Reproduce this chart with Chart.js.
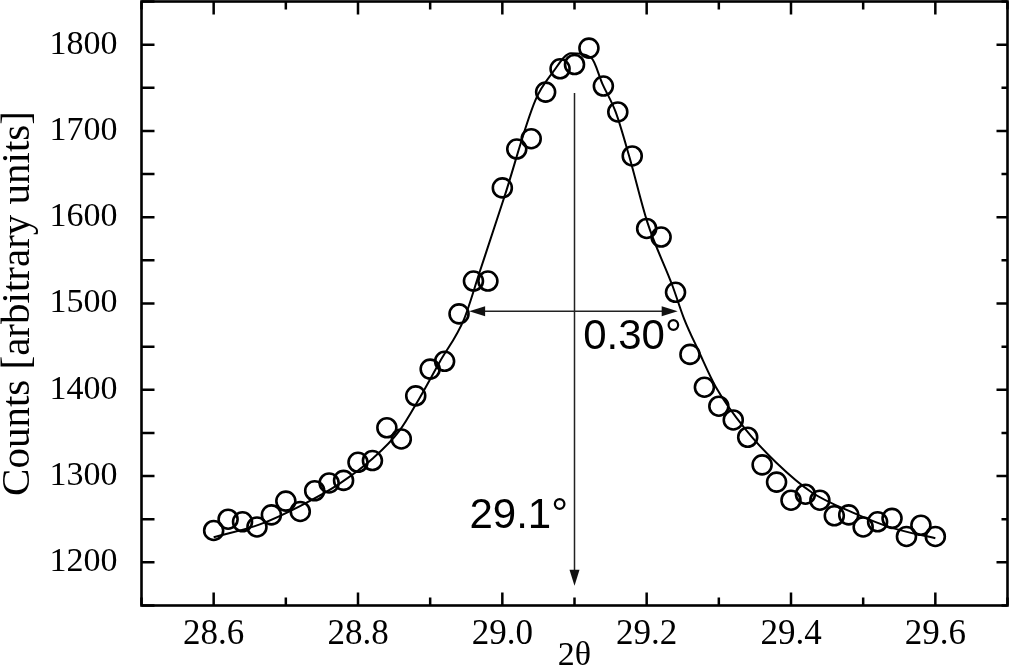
<!DOCTYPE html>
<html>
<head>
<meta charset="utf-8">
<title>XRD peak</title>
<script src="https://cdn.jsdelivr.net/npm/chart.js@4.4.1/dist/chart.umd.min.js"></script>
<style>
  html, body { margin: 0; padding: 0; background: #fff; }
  #wrap { width: 1011px; height: 667px; position: relative; }
</style>
</head>
<body>
<div id="wrap"><canvas id="xrd-chart" width="1011" height="667"></canvas></div>
<script>
// measured points (2theta, counts)
var twoTheta = [28.60, 28.62, 28.64, 28.66, 28.68, 28.70, 28.72, 28.74, 28.76, 28.78,
                28.80, 28.82, 28.84, 28.86, 28.88, 28.90, 28.92, 28.94, 28.96, 28.98,
                29.00, 29.02, 29.04, 29.06, 29.08, 29.10, 29.12, 29.14, 29.16, 29.18,
                29.20, 29.22, 29.24, 29.26, 29.28, 29.30, 29.32, 29.34, 29.36, 29.38,
                29.40, 29.42, 29.44, 29.46, 29.48, 29.50, 29.52, 29.54, 29.56, 29.58, 29.60];
var counts = [1237, 1250, 1247, 1241, 1255, 1271, 1259, 1283, 1292, 1295,
              1316, 1318, 1356, 1343, 1393, 1424, 1433, 1488, 1526, 1526,
              1634, 1679, 1691, 1745, 1772, 1777, 1796, 1752, 1722, 1671,
              1587, 1577, 1513, 1441, 1403, 1381, 1365, 1345, 1313, 1293,
              1272, 1279, 1272, 1254, 1255, 1241, 1247, 1251, 1230, 1243, 1230];

// fitted curve
var fitX = [28.600, 28.664, 28.719, 28.774, 28.820, 28.857, 28.885, 28.913, 28.947, 28.968,
            29.003, 29.046, 29.070, 29.095, 29.123, 29.139, 29.157, 29.176, 29.201, 29.236,
            29.252, 29.272, 29.296, 29.337, 29.379, 29.429, 29.485, 29.540, 29.600];
var fitY = [1229, 1244, 1265, 1291, 1320, 1352, 1390, 1432, 1482, 1535,
            1624, 1736, 1768, 1790, 1785, 1754, 1722, 1670, 1594, 1520,
            1482, 1445, 1403, 1354, 1316, 1281, 1258, 1240, 1228];

// axis ticks
var xMajorTicks = [28.6, 28.8, 29.0, 29.2, 29.4, 29.6];
var xMinorTicks = [28.5, 28.7, 28.9, 29.1, 29.3, 29.5, 29.7];
var yMajorTicks = [1200, 1300, 1400, 1500, 1600, 1700, 1800];
var yMinorTicks = [1150, 1250, 1350, 1450, 1550, 1650, 1750, 1850];

// annotations
var peakPos = 29.1;
var peakArrowTop = 1744;
var peakArrowTip = 1173;
var fwhmLevel = 1491;
var fwhmLeft = 28.954;
var fwhmRight = 29.243;
var peakLabel = "29.1°";
var fwhmLabel = "0.30°";

var serif = "'Liberation Serif', 'Times New Roman', serif";
var sans = "'Liberation Sans', Arial, sans-serif";

function arrowHead(ctx, x, y, dx, dy) {
  // filled triangle, tip at (x,y), pointing along (dx,dy)
  var len = 16, half = 5;
  var px = -dy, py = dx;
  ctx.beginPath();
  ctx.moveTo(x, y);
  ctx.lineTo(x - dx * len + px * half, y - dy * len + py * half);
  ctx.lineTo(x - dx * len - px * half, y - dy * len - py * half);
  ctx.closePath();
  ctx.fill();
}

// keep Chart.js from insetting the plot area for edge labels
function noEdgePadding(scale) {
  scale.paddingTop = 0;
  scale.paddingBottom = 0;
  scale.paddingLeft = 0;
  scale.paddingRight = 0;
}

var framePlugin = {
  id: "frame",
  afterDraw: function (chart) {
    var ctx = chart.ctx;
    var a = chart.chartArea;
    var xs = chart.scales.x, ys = chart.scales.y;
    ctx.save();

    // inward ticks on all four sides
    ctx.strokeStyle = "#000";
    ctx.lineWidth = 2.5;
    ctx.beginPath();
    xMajorTicks.forEach(function (v) {
      var p = xs.getPixelForValue(v);
      ctx.moveTo(p, a.bottom); ctx.lineTo(p, a.bottom - 13);
      ctx.moveTo(p, a.top); ctx.lineTo(p, a.top + 13);
    });
    xMinorTicks.forEach(function (v) {
      var p = xs.getPixelForValue(v);
      ctx.moveTo(p, a.bottom); ctx.lineTo(p, a.bottom - 8);
      ctx.moveTo(p, a.top); ctx.lineTo(p, a.top + 8);
    });
    yMajorTicks.forEach(function (v) {
      var p = ys.getPixelForValue(v);
      ctx.moveTo(a.left, p); ctx.lineTo(a.left + 13, p);
      ctx.moveTo(a.right, p); ctx.lineTo(a.right - 11, p);
    });
    yMinorTicks.forEach(function (v) {
      var p = ys.getPixelForValue(v);
      ctx.moveTo(a.left, p); ctx.lineTo(a.left + 13, p);
      ctx.moveTo(a.right, p); ctx.lineTo(a.right - 6, p);
    });
    ctx.stroke();

    // frame
    ctx.lineWidth = 2.6;
    ctx.strokeRect(a.left, a.top, a.right - a.left, a.bottom - a.top);

    // peak position arrow
    ctx.strokeStyle = "#222";
    ctx.fillStyle = "#111";
    ctx.lineWidth = 1.5;
    var px = xs.getPixelForValue(peakPos);
    var top = ys.getPixelForValue(peakArrowTop);
    var tip = ys.getPixelForValue(peakArrowTip);
    ctx.beginPath();
    ctx.moveTo(px, top); ctx.lineTo(px, tip - 10);
    ctx.stroke();
    arrowHead(ctx, px, tip, 0, 1);

    // FWHM double arrow
    var hy = ys.getPixelForValue(fwhmLevel);
    var hl = xs.getPixelForValue(fwhmLeft);
    var hr = xs.getPixelForValue(fwhmRight);
    ctx.beginPath();
    ctx.moveTo(hl + 10, hy); ctx.lineTo(hr - 10, hy);
    ctx.stroke();
    arrowHead(ctx, hl, hy, -1, 0);
    arrowHead(ctx, hr, hy, 1, 0);

    // labels
    ctx.fillStyle = "#000";
    ctx.font = "42px " + sans;
    ctx.textBaseline = "alphabetic";
    ctx.textAlign = "left";
    ctx.fillText(fwhmLabel, xs.getPixelForValue(29.112), ys.getPixelForValue(1447));
    ctx.textAlign = "right";
    ctx.fillText(peakLabel, xs.getPixelForValue(29.091), ys.getPixelForValue(1240));

    ctx.restore();
  }
};

var ctx = document.getElementById("xrd-chart").getContext("2d");
new Chart(ctx, {
  type: "scatter",
  data: {
    datasets: [
      {
        label: "data",
        data: twoTheta.map(function (x, i) { return { x: x, y: counts[i] }; }),
        pointStyle: "circle",
        pointRadius: 9.5,
        pointBorderWidth: 2.6,
        pointBorderColor: "#000",
        pointBackgroundColor: "rgba(255,255,255,0)",
        showLine: false,
        order: 1
      },
      {
        label: "fit",
        data: fitX.map(function (x, i) { return { x: x, y: fitY[i] }; }),
        showLine: true,
        borderColor: "#000",
        borderWidth: 2,
        pointRadius: 0,
        cubicInterpolationMode: "monotone",
        fill: false,
        order: 2
      }
    ]
  },
  options: {
    responsive: false,
    animation: false,
    devicePixelRatio: 1,
    layout: { autoPadding: false, padding: { top: 1.5, right: 3.5, left: 0, bottom: 0 } },
    plugins: {
      legend: { display: false },
      tooltip: { enabled: false }
    },
    scales: {
      x: {
        type: "linear",
        min: 28.5,
        max: 29.7,
        grid: { display: false, drawTicks: false },
        border: { display: false },
        afterBuildTicks: function (scale) {
          scale.ticks = xMajorTicks.map(function (v) { return { value: v }; });
        },
        afterFit: function (scale) {
          scale.height = 61.5;
          noEdgePadding(scale);
        },
        ticks: {
          color: "#000",
          padding: 8,
          font: { family: serif, size: 35 },
          callback: function (v) { return Number(v).toFixed(1); }
        },
        title: {
          display: true,
          text: "2θ",
          color: "#000",
          font: { family: serif, size: 34 },
          padding: { top: 0, bottom: -9 }
        }
      },
      y: {
        type: "linear",
        min: 1150,
        max: 1850,
        grid: { display: false, drawTicks: false },
        border: { display: false },
        afterBuildTicks: function (scale) {
          scale.ticks = yMajorTicks.map(function (v) { return { value: v }; });
        },
        afterFit: function (scale) {
          scale.width = 141.5;
          noEdgePadding(scale);
        },
        ticks: {
          color: "#000",
          padding: 24,
          font: { family: serif, size: 34 },
          callback: function (v) { return String(v); }
        },
        title: {
          display: true,
          text: "Counts [arbitrary units]",
          color: "#000",
          font: { family: serif, size: 41 },
          padding: { top: -6, bottom: 0 }
        }
      }
    }
  },
  plugins: [framePlugin]
});
</script>
</body>
</html>
